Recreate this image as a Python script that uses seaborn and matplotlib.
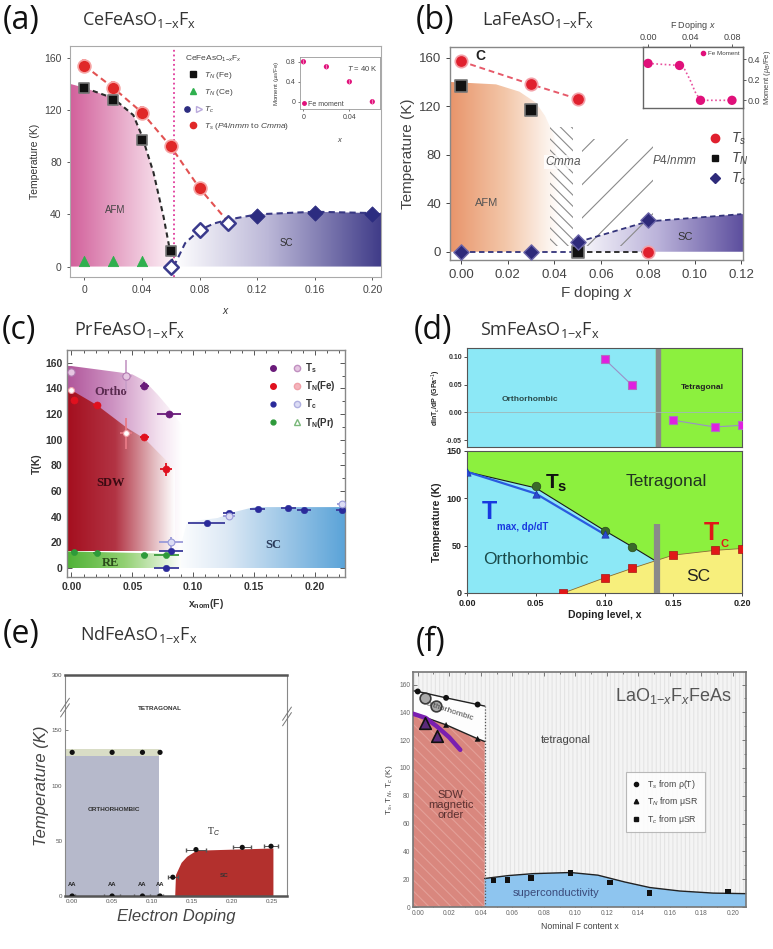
import numpy as np
import matplotlib
matplotlib.use("Agg")
import matplotlib.pyplot as plt
import seaborn as sns
from matplotlib.patches import Polygon, Rectangle
from matplotlib.colors import LinearSegmentedColormap
from matplotlib.lines import Line2D
from matplotlib.legend_handler import HandlerTuple
from matplotlib.ticker import AutoMinorLocator

# ---------------- (a) CeFeAsO1-xFx ----------------
ce_ts_x = [0.0, 0.02, 0.04, 0.06, 0.08]
ce_ts = [154, 137, 118, 92, 60]
ce_tn_fe_x = [0.0, 0.02, 0.04, 0.06]
ce_tn_fe = [137, 128, 97, 12]
ce_tn_ce_x = [0.0, 0.02, 0.04]
ce_tn_ce = [4, 4, 4]
ce_tc_open_x = [0.06, 0.08, 0.10]
ce_tc_open = [0, 28, 33]
ce_tc_x = [0.12, 0.16, 0.20]
ce_tc = [39, 41, 40]
ce_mom_x = [0.0, 0.02, 0.04, 0.06]
ce_mom = [0.80, 0.70, 0.40, 0.0]
ce_afm_x = [-0.01, 0.0, 0.02, 0.034, 0.04, 0.048, 0.055, 0.0586, 0.062]
ce_afm_t = [140, 137, 129, 116, 100, 72, 38, 17, 0]
ce_sc_x = [0.062, 0.07, 0.08, 0.09, 0.10, 0.12, 0.16, 0.20, 0.206]
ce_sc_t = [0, 18, 28, 33, 36, 40, 42, 41, 41]
ce_ts_guide_x = [0.0, 0.02, 0.04, 0.06, 0.08, 0.10]
ce_ts_guide = [154, 137, 118, 92, 60, 34]

# ---------------- (b) LaFeAsO1-xFx ----------------
la_ts_x = [0.0, 0.03, 0.05, 0.08]
la_ts = [157, 138, 126, 0]
la_tn_x = [0.0, 0.03, 0.05]
la_tn = [137, 117, 0]
la_tc_x = [0.0, 0.03, 0.05, 0.08]
la_tc = [0, 0, 8, 26]
la_mom_x = [0.0, 0.03, 0.05, 0.08]
la_mom = [0.36, 0.34, 0.0, 0.0]
la_mom_guide_x = [0.0, 0.03, 0.035, 0.04, 0.045, 0.05, 0.08]
la_mom_guide = [0.36, 0.34, 0.30, 0.20, 0.08, 0.0, 0.0]
la_afm_x = [-0.005, 0.015, 0.025, 0.032, 0.036, 0.04, 0.042]
la_afm_t = [140, 138, 132, 123, 112, 95, 60]
la_sc_x = [0.047, 0.05, 0.08, 0.12, 0.121]
la_sc_t = [0, 8, 25, 31, 31]

# ---------------- (c) PrFeAsO1-xFx ----------------
pr_ts_x = [0.06, 0.080]
pr_ts = [142, 120]
pr_ts_open_x = [0.0, 0.0446]
pr_ts_open = [153, 150]
pr_tnfe_x = [0.002, 0.021, 0.06, 0.078]
pr_tnfe = [131, 127, 102, 77]
pr_tnfe_open_x = [0.0, 0.0446]
pr_tnfe_open = [139, 105]
pr_tc_x = [0.078, 0.082, 0.111, 0.1295, 0.153, 0.178, 0.191, 0.222]
pr_tc = [0, 13.5, 35, 43, 46, 47, 45, 45]
pr_tc_xerr = [0.01, 0.01, 0.015, 0.005, 0.006, 0.006, 0.006, 0.005]
pr_tc_open_x = [0.082, 0.1295, 0.222]
pr_tc_open = [20, 40.5, 49.6]
pr_tnpr_x = [0.002, 0.021, 0.06, 0.078]
pr_tnpr = [12.7, 12, 10, 10]
pr_ortho_x = [-0.004, 0.0, 0.02, 0.04, 0.05, 0.06, 0.071, 0.08, 0.09]
pr_ortho_t = [157.5, 157.5, 155, 152.5, 151, 146, 135, 125, 112]
pr_sdw_x = [-0.004, 0.0, 0.021, 0.046, 0.06, 0.0735, 0.085]
pr_sdw_t = [139, 138.7, 127, 109, 101, 88, 77]
pr_sc_x = [0.085, 0.095, 0.12, 0.135, 0.15, 0.2246]
pr_sc_t = [0, 36, 39, 44, 47.5, 47.5]

# ---------------- (d) SmFeAsO1-xFx ----------------
sm_dp_x1 = [0.10, 0.12]
sm_dp1 = [0.096, 0.049]
sm_dp_x2 = [0.15, 0.18, 0.20]
sm_dp2 = [-0.014, -0.026, -0.023]
sm_ts_x = [0.05, 0.10, 0.12]
sm_ts = [113, 66, 49]
sm_tmax_x = [0.0, 0.05, 0.10]
sm_tmax = [128, 105, 62]
sm_tc_x = [0.07, 0.10, 0.12, 0.15, 0.18, 0.20]
sm_tc = [0, 16, 26, 40, 45, 47]
sm_struct_x = [0.0, 0.05, 0.10, 0.12, 0.137]
sm_struct_t = [128, 111, 66, 49, 34]

# ---------------- (e) NdFeAsO1-xFx ----------------
nd_ts_x = [0.0, 0.05, 0.088, 0.11]
nd_ts = [130, 130, 130, 130]
nd_zero_x = [0.0, 0.05, 0.088, 0.11]
nd_zero = [0, 0, 0, 0]
nd_zero_xerr = [0.003, 0.01, 0.01, 0.004]
nd_tc_x = [0.126, 0.155, 0.213, 0.249]
nd_tc = [17, 42, 44, 45]
nd_tc_xerr = [0.006, 0.012, 0.011, 0.009]
nd_sc_x = [0.129, 0.130, 0.137, 0.144, 0.156, 0.252, 0.252]
nd_sc_t = [0, 19, 30, 35.5, 41, 43, 0]

# ---------------- (f) LaO1-xFxFeAs ----------------
lo_ts_x = [0.0, 0.018, 0.038]
lo_ts = [155, 150.4, 145.6]
lo_tn_x = [0.018, 0.038]
lo_tn = [131, 121]
lo_ts_big_x = [0.0044, 0.0119]
lo_ts_big = [150, 144.4]
lo_tn_big_x = [0.0044, 0.0123]
lo_tn_big = [132.4, 122.7]
lo_tc_x = [0.048, 0.057, 0.072, 0.097, 0.122, 0.147, 0.197]
lo_tc = [19, 19.5, 21, 24.5, 17.5, 10, 11]
lo_tsline_x = [-0.003, 0.0, 0.018, 0.038, 0.0425]
lo_tsline = [155.5, 155, 150.4, 145.6, 144.5]
lo_tnline_x = [-0.003, 0.018, 0.038, 0.0425]
lo_tnline = [139.5, 131, 121, 119]
lo_musr_x = [-0.003, 0.005, 0.012, 0.02, 0.027]
lo_musr = [139, 136, 130, 122, 113]
lo_sc_x = [0.0425, 0.0575, 0.0733, 0.097, 0.1143, 0.1313, 0.1473, 0.1663, 0.1875, 0.2083]
lo_sc_t = [20.5, 22.6, 24, 24.8, 22.9, 18, 14, 11.5, 10, 9.6]

sns.set_theme(style="white")
plt.rcParams['font.family'] = ['Liberation Sans', 'DejaVu Sans']
plt.rcParams['mathtext.fontset'] = 'custom'
plt.rcParams['mathtext.rm'] = 'Liberation Sans'
plt.rcParams['mathtext.it'] = 'Liberation Sans:italic'
plt.rcParams['mathtext.bf'] = 'Liberation Sans:bold'
plt.rcParams['hatch.linewidth'] = 0.8

W, H = 773, 949
fig = plt.figure(figsize=(W / 100, H / 100), dpi=100)
fig.patch.set_facecolor('white')


def add_ax(l, t, r, b):
    return fig.add_axes([l / W, 1 - b / H, (r - l) / W, (b - t) / H])


def shade(ax, xs, ys, stops, x0, x1, zorder=1):
    poly = Polygon(np.column_stack([xs, ys]), closed=True, fc='none', ec='none')
    ax.add_patch(poly)
    cmap = LinearSegmentedColormap.from_list('shade', stops)
    im = ax.imshow(np.linspace(0, 1, 256)[None, :], extent=[x0, x1, min(ys), max(ys)],
                   cmap=cmap, aspect='auto', origin='lower', interpolation='bilinear',
                   zorder=zorder)
    im.set_clip_path(poly)


def pts(ax, x, y, **kw):
    sns.scatterplot(x=x, y=y, ax=ax, legend=False, **kw)


def guide(ax, x, y, **kw):
    sns.lineplot(x=x, y=y, ax=ax, sort=False, estimator=None, legend=False, **kw)


def frame(ax, color='#999999', lw=0.8):
    for s in ax.spines.values():
        s.set_visible(True)
        s.set_color(color)
        s.set_linewidth(lw)


def panel_label(x, y, letter, formula=None, fx=None):
    fig.text(x / W, 1 - y / H, letter, fontsize=23, family='Open Sans',
             va='center', ha='left', color='#111')
    if formula:
        fig.text(fx / W, 1 - (y + 5) / H, formula, fontsize=13, family='Open Sans',
                 va='baseline', ha='left', color='#333')


SUB = '$_{\\mathregular{1{-}x}}$F$_{\\mathregular{x}}$'

# ================= (a) =================
ax = add_ax(70, 46, 381, 277)
shade(ax, ce_afm_x + [-0.01], ce_afm_t + [0],
      [(0, '#d2609b'), (0.55, '#eab3cf'), (1, '#fdf3f8')], -0.01, 0.062)
shade(ax, ce_sc_x + [0.206], ce_sc_t + [0],
      [(0, '#ffffff'), (0.45, '#bcb8d8'), (1, '#3f3b88')], 0.062, 0.206)
ax.axvline(0.062, color='#e03c9c', ls=(0, (1, 1.6)), lw=1.3, zorder=2)
guide(ax, ce_afm_x[1:], ce_afm_t[1:], color='#2b2b2b', lw=1.5, linestyle=(0, (2.5, 1.8)), zorder=3)
guide(ax, ce_ts_guide_x, ce_ts_guide, color='#e25252', lw=1.5, linestyle=(0, (3, 2)), zorder=3)
guide(ax, ce_sc_x, ce_sc_t, color='#383884', lw=1.5, linestyle=(0, (3, 2)), zorder=3)
ax.errorbar(ce_ts_x, ce_ts, yerr=5, fmt='none', ecolor='#f39a9a', elinewidth=3, zorder=4)
pts(ax, ce_ts_x, ce_ts, color='#e02828', s=85, edgecolor='#f6a4a4', linewidth=1.2, zorder=5)
ax.errorbar(ce_tn_fe_x, ce_tn_fe, yerr=4, fmt='none', ecolor='#777', elinewidth=2.5, zorder=4)
pts(ax, ce_tn_fe_x, ce_tn_fe, color='#111', marker='s', s=60, edgecolor='#777', linewidth=1.2, zorder=5)
pts(ax, ce_tn_ce_x, ce_tn_ce, color='#2fb04e', marker='^', s=55, edgecolor='#2fb04e', zorder=5)
pts(ax, ce_tc_open_x, ce_tc_open, color='white', marker='D', s=55, edgecolor='#3a3a8c', linewidth=1.8, zorder=5)
pts(ax, ce_tc_x, ce_tc, color='#2c2c80', marker='D', s=60, edgecolor='#2c2c80', zorder=5)
ax.text(0.0214, 43, 'AFM', fontsize=7, color='#444', ha='center', va='center')
ax.text(0.14, 18, 'SC', fontsize=7, color='#333', ha='center', va='center')
ax.set_xlim(-0.01, 0.206)
ax.set_ylim(-8, 169)
ax.set_xticks([0, 0.04, 0.08, 0.12, 0.16, 0.20])
ax.set_xticklabels(['0', '0.04', '0.08', '0.12', '0.16', '0.20'])
ax.set_yticks([0, 40, 80, 120, 160])
ax.tick_params(labelsize=7.5, colors='#444', bottom=True, left=True, length=2.5, width=0.6, direction='out')
ax.set_ylabel('Temperature (K)', fontsize=7.5, color='#333', labelpad=3)
ax.set_xlabel('$x$', fontsize=7.5, color='#333', labelpad=8)
frame(ax, '#aaaaaa')
hA = [Line2D([], [], marker='s', color='#111', ls='none', ms=4.5),
      Line2D([], [], marker='^', color='#2fb04e', ls='none', ms=4.5),
      (Line2D([], [], marker='o', color='#2c2c80', ls='none', ms=3.8),
       Line2D([], [], marker='>', mfc='white', mec='#b9a9dc', ls='none', ms=4.5)),
      Line2D([], [], marker='o', color='#e02828', ls='none', ms=4.5)]
lA = ['$T_N$ (Fe)', '$T_N$ (Ce)', '$T_c$', '$T_s$ ($P4/nmm$ to $Cmma$)']
leg = ax.legend(hA, lA, title='CeFeAsO$_{1{-}x}$F$_x$', loc='upper left', bbox_to_anchor=(0.345, 1.0),
                frameon=False, fontsize=6, title_fontsize=6, alignment='left', labelspacing=0.75,
                handletextpad=0.3, handlelength=2.0,
                handler_map={tuple: HandlerTuple(ndivide=None, pad=0.9)})
for t in leg.get_texts():
    t.set_color('#444')
leg.get_title().set_color('#444')

ai = add_ax(300, 57, 380, 109)
ai.errorbar(ce_mom_x, ce_mom, yerr=0.05, fmt='none', ecolor='#f27ab6', elinewidth=0.8)
pts(ai, ce_mom_x, ce_mom, color='#e0107a', s=14, edgecolor='none')
ai.text(0.065, 0.67, '$T$ = 40 K', fontsize=5.5, color='#444', ha='right', va='center')
ai.legend([Line2D([], [], marker='o', color='#e0107a', ls='none', ms=2.5)], ['Fe moment'],
          loc='lower left', frameon=False, fontsize=5, handletextpad=0.2, handlelength=0.8,
          borderaxespad=0.1, borderpad=0.1, labelcolor='#444')
ai.set_xlim(-0.003, 0.0667)
ai.set_ylim(-0.146, 0.894)
ai.set_xticks([0, 0.04])
ai.set_xticklabels(['0', '0.04'])
ai.set_yticks([0, 0.4, 0.8])
ai.set_yticklabels(['0', '0.4', '0.8'])
ai.tick_params(labelsize=5, colors='#444', bottom=True, left=True, length=1.5, width=0.5, pad=2)
ai.set_ylabel('Moment ($\\mu_B$/Fe)', fontsize=4.5, color='#444', labelpad=3)
ai.set_xlabel('$x$', fontsize=5.5, color='#444', labelpad=11)
frame(ai, '#999999', 0.6)

# ================= (b) =================
bx = add_ax(450, 47, 743, 260)
shade(bx, la_afm_x + [0.042, -0.005], la_afm_t + [0, 0],
      [(0, '#e8946a'), (0.5, '#f3c6a8'), (1, '#ffffff')], -0.005, 0.042)
shade(bx, la_sc_x + [0.121], la_sc_t + [0],
      [(0, '#ffffff'), (0.5, '#bbb3da'), (1, '#5b4d9d')], 0.047, 0.121, zorder=2)
bx.add_patch(Rectangle((0.038, 5), 0.010, 98, fill=False, hatch='\\\\\\', ec='#8a8a8a', lw=0, zorder=3))
bx.add_patch(Rectangle((0.052, 5), 0.030, 88, fill=False, hatch='/', ec='#8a8a8a', lw=0, zorder=3))
guide(bx, la_ts_x[:3], la_ts[:3], color='#e65a6a', lw=1.4, linestyle=(0, (3, 2)), zorder=4)
guide(bx, la_tc_x[:2] + [0.05], [0, 0, 0], color='#33337a', lw=1.3, linestyle=(0, (3, 2)), zorder=4)
guide(bx, [0.05, 0.08], [0, 0], color='#222', lw=1.3, linestyle=(0, (3, 2)), zorder=4)
guide(bx, la_sc_x[1:4], la_sc_t[1:4], color='#33337a', lw=1.3, linestyle=(0, (3, 2)), zorder=4)
pts(bx, la_ts_x, la_ts, color='#e0202e', s=80, edgecolor='#f3a0a8', linewidth=1.2, zorder=5)
pts(bx, la_tn_x, la_tn, color='#111', marker='s', s=70, edgecolor='#777', linewidth=1.2, zorder=5)
pts(bx, la_tc_x, la_tc, color='#2e2a7a', marker='D', s=60, edgecolor='#6a64a8', linewidth=1, zorder=5)
bx.text(0.006, 161, 'C', fontsize=10, weight='bold', color='#222', va='center')
bx.text(0.0436, 74, '$Cmma$', fontsize=8.5, color='#555', ha='center', va='center', zorder=6,
        bbox=dict(fc='white', ec='none', pad=0.5, alpha=0.8))
bx.text(0.0915, 75, '$P4/nmm$', fontsize=8.5, color='#555', ha='center', va='center')
bx.text(0.011, 40, 'AFM', fontsize=8, color='#555', ha='center', va='center')
bx.text(0.096, 12, 'SC', fontsize=8, color='#333', ha='center', va='center', zorder=6)
bx.set_xlim(-0.0047, 0.1207)
bx.set_ylim(-6.8, 168.8)
bx.set_xticks([0, 0.02, 0.04, 0.06, 0.08, 0.10, 0.12])
bx.set_xticklabels(['0.00', '0.02', '0.04', '0.06', '0.08', '0.10', '0.12'])
bx.set_yticks([0, 40, 80, 120, 160])
bx.tick_params(labelsize=9.5, colors='#444', bottom=True, left=True, length=3, width=0.7, direction='out')
bx.set_ylabel('Temperature (K)', fontsize=11, color='#444', labelpad=3)
bx.set_xlabel('F doping $x$', fontsize=11, color='#444', labelpad=2)
frame(bx, '#888888', 1.0)
hB = [Line2D([], [], marker='o', color='#e0202e', ls='none', ms=6),
      Line2D([], [], marker='s', color='#111', ls='none', ms=5),
      Line2D([], [], marker='D', color='#2e2a7a', ls='none', ms=5)]
bx.legend(hB, ['$T_s$', '$T_N$', '$T_c$'], loc='upper left', bbox_to_anchor=(0.835, 0.665),
          frameon=False, fontsize=10, labelspacing=0.25, handletextpad=0.5, handlelength=1.2,
          labelcolor='#444')

bi = add_ax(643, 47, 743, 108)
guide(bi, la_mom_guide_x, la_mom_guide, color='#e8509e', lw=1.2, linestyle=(0, (1, 1.5)))
pts(bi, la_mom_x, la_mom, color='#e0107a', s=45, edgecolor='none', zorder=5)
bi.legend([Line2D([], [], marker='o', color='#e0107a', ls='none', ms=3)], ['Fe Moment'],
          loc='upper right', frameon=False, fontsize=4.5, handletextpad=0.3, handlelength=1,
          borderaxespad=0.2, labelcolor='#444')
bi.set_xlim(-0.0048, 0.0905)
bi.set_ylim(-0.075, 0.52)
bi.xaxis.tick_top()
bi.xaxis.set_label_position('top')
bi.yaxis.tick_right()
bi.yaxis.set_label_position('right')
bi.set_xticks([0, 0.04, 0.08])
bi.set_xticklabels(['0.00', '0.04', '0.08'])
bi.set_yticks([0, 0.2, 0.4])
bi.set_yticklabels(['0.0', '0.2', '0.4'])
bi.tick_params(labelsize=6.5, colors='#444', top=True, right=True, length=2, width=0.6, pad=1.5)
bi.set_xlabel('F Doping $x$', fontsize=6.5, color='#444', labelpad=4)
bi.set_ylabel('Moment ($\\mu_B$/Fe)', fontsize=5.5, color='#444', labelpad=1)
frame(bi, '#666666', 1.0)

# ================= (c) =================
cx = add_ax(67, 350, 345, 577)
shade(cx, pr_ortho_x + [0.09, -0.004], pr_ortho_t + [13, 13],
      [(0, '#b0559a'), (0.4, '#cd92c2'), (0.8, '#f3e1ef'), (1, '#ffffff')], -0.004, 0.09)
shade(cx, pr_sdw_x + [0.085, -0.004], pr_sdw_t + [13, 13],
      [(0, '#a40e1e'), (0.45, '#b23444'), (0.8, '#e2b8bd'), (1, '#ffffff')], -0.004, 0.085, zorder=2)
shade(cx, [-0.004, 0.09, 0.09, -0.004], [0, 0, 11, 13],
      [(0, '#4fb236'), (0.5, '#92d072'), (1, '#ffffff')], -0.004, 0.09, zorder=2)
shade(cx, pr_sc_x + [0.2246], pr_sc_t + [0],
      [(0, '#ffffff'), (0.3, '#dde9f5'), (1, '#5aa3d8')], 0.085, 0.2246)
ecol = dict(fmt='none', elinewidth=1.3, zorder=4)
cx.errorbar([0.06, 0.08], pr_ts, xerr=[0.004, 0.01], yerr=[3, 0], ecolor='#6a1b7a', **ecol)
cx.errorbar([0.0446], [150], xerr=0.005, yerr=12, ecolor='#c9a0c9', **ecol)
cx.errorbar([0.0446], [105], xerr=0.005, yerr=12, ecolor='#e87a86', **ecol)
cx.errorbar(pr_tnfe_x, pr_tnfe, xerr=[0.002, 0.003, 0.004, 0.005], yerr=[0, 0, 0, 5], ecolor='#e0101e', **ecol)
cx.errorbar(pr_tc_x, pr_tc, xerr=pr_tc_xerr, ecolor='#3a3a9a', **ecol)
cx.errorbar(pr_tc_open_x, pr_tc_open, xerr=[0.01, 0.005, 0.004], yerr=[4, 0, 3], ecolor='#9a9ad8', **ecol)
cx.errorbar(pr_tnpr_x, pr_tnpr, xerr=[0.002, 0.003, 0.003, 0.01], ecolor='#3a9a3a', **ecol)
pts(cx, pr_ts_open_x, pr_ts_open, color='#e6c6e2', s=28, edgecolor='#b07ab0', linewidth=0.8, zorder=5)
pts(cx, pr_tnfe_open_x, pr_tnfe_open, color='#ffffff', s=18, edgecolor='#f0a0a8', linewidth=0.8, zorder=5)
pts(cx, pr_ts_x, pr_ts, color='#6a1b7a', s=26, edgecolor='#6a1b7a', zorder=5)
pts(cx, pr_tnfe_x, pr_tnfe, color='#e0101e', s=26, edgecolor='#e0101e', zorder=5)
pts(cx, pr_tc_x, pr_tc, color='#2a2a9a', s=22, edgecolor='#2a2a9a', zorder=5)
pts(cx, pr_tc_open_x, pr_tc_open, color='#dcdcf4', s=24, edgecolor='#9a9ad8', linewidth=0.8, zorder=5)
pts(cx, pr_tnpr_x, pr_tnpr, color='#2e9a3a', s=20, edgecolor='#2e9a3a', zorder=5)
serif = dict(family='Liberation Serif', weight='bold', fontsize=9, ha='center', va='center')
cx.text(0.032, 137, 'Ortho', color='#5a2a50', **serif)
cx.text(0.032, 66, 'SDW', color='#3a0a12', **serif)
cx.text(0.032, 4, 'RE', color='#2a4a1a', zorder=6, **serif)
cx.text(0.166, 18, 'SC', color='#2a3a5a', **serif)
cx.set_xlim(-0.0036, 0.2246)
cx.set_ylim(-7, 170)
cx.set_xticks([0, 0.05, 0.10, 0.15, 0.20])
cx.set_xticklabels(['0.00', '0.05', '0.10', '0.15', '0.20'])
cx.set_yticks(range(0, 161, 20))
cx.xaxis.set_minor_locator(AutoMinorLocator(5))
cx.yaxis.set_minor_locator(AutoMinorLocator(2))
cx.tick_params(which='both', direction='in', top=True, right=True, bottom=True, left=True,
               colors='#555', width=0.7)
cx.tick_params(which='major', length=3.5, labelsize=7.5)
cx.tick_params(which='minor', length=2)
for t in cx.get_xticklabels() + cx.get_yticklabels():
    t.set_fontweight('bold')
    t.set_color('#333')
cx.set_ylabel('T(K)', fontsize=7.5, weight='bold', color='#333', labelpad=2)
cx.set_xlabel('x$_{\\mathbf{nom}}$(F)', fontsize=7.5, weight='bold', color='#333', labelpad=4)
frame(cx, '#888888', 1.0)
hC = [(Line2D([], [], marker='o', color='#6a1b7a', ls='none', ms=4),
       Line2D([], [], marker='o', mfc='#e6c6e2', mec='#c090c0', ls='none', ms=4.5)),
      (Line2D([], [], marker='o', color='#e0101e', ls='none', ms=4),
       Line2D([], [], marker='o', mfc='#f4b4bc', mec='#f0a0a8', ls='none', ms=4.5)),
      (Line2D([], [], marker='o', color='#2a2a9a', ls='none', ms=3.5),
       Line2D([], [], marker='o', mfc='#dcdcf4', mec='#b0b0e0', ls='none', ms=4.5)),
      (Line2D([], [], marker='o', color='#2e9a3a', ls='none', ms=3.5),
       Line2D([], [], marker='^', mfc='white', mec='#7ab87a', ls='none', ms=4.5))]
legC = cx.legend(hC, ['T$_\\mathbf{s}$', 'T$_\\mathbf{N}$(Fe)', 'T$_\\mathbf{c}$', 'T$_\\mathbf{N}$(Pr)'],
                 loc='upper right', bbox_to_anchor=(1.0, 0.99), frameon=False, fontsize=7,
                 labelspacing=0.45, handletextpad=0.4, handlelength=3.4,
                 handler_map={tuple: HandlerTuple(ndivide=None, pad=1.6)})
for t in legC.get_texts():
    t.set_fontweight('bold')
    t.set_color('#333')

# ================= (d) =================
CYAN, LIME, YEL = '#8ce8f6', '#8cf03e', '#f7ef7c'
dx1 = add_ax(467, 348, 742, 447)
dx1.axvspan(0, 0.1375, color=CYAN, zorder=0)
dx1.axvspan(0.1375, 0.2, color=LIME, zorder=0)
dx1.axvspan(0.1375, 0.1405, color='#8a8a8a', zorder=1)
dx1.axhline(0, color='#a0b8b8', lw=0.6, zorder=1)
guide(dx1, sm_dp_x1, sm_dp1, color='#9a90c8', lw=0.8, zorder=2)
guide(dx1, sm_dp_x2, sm_dp2, color='#9a90c8', lw=0.8, zorder=2)
pts(dx1, sm_dp_x1 + sm_dp_x2, sm_dp1 + sm_dp2, color='#e020e0', marker='s', s=40,
    edgecolor='#b070c0', linewidth=0.8, zorder=3)
dx1.text(0.0457, 0.0235, 'Orthorhombic', fontsize=6, weight='bold', color='#2a4a4a', ha='center', va='center')
dx1.text(0.171, 0.045, 'Tetragonal', fontsize=6, weight='bold', color='#222', ha='center', va='center')
dx1.set_xlim(0, 0.2)
dx1.set_ylim(-0.062, 0.1157)
dx1.set_xticks([0, 0.05, 0.10, 0.15, 0.20])
dx1.set_xticklabels([])
dx1.set_yticks([-0.05, 0, 0.05, 0.10])
dx1.set_yticklabels(['-0.05', '0.00', '0.05', '0.10'])
dx1.tick_params(labelsize=5, colors='#333', left=True, length=2, width=0.6, pad=1.5)
for t in dx1.get_yticklabels():
    t.set_fontweight('bold')
dx1.set_ylabel('dlnT$_c$/dP (GPa$^{-1}$)', fontsize=5, weight='bold', color='#222', labelpad=2)
frame(dx1, '#555555', 0.8)

dx2 = add_ax(467, 451, 742, 593)
dx2.set_facecolor(LIME)
cyan_x = sm_struct_x + [0.12, 0.10, 0.07, 0.0]
cyan_t = sm_struct_t + [26, 16, 0, 0]
dx2.add_patch(Polygon(np.column_stack([cyan_x, cyan_t]), closed=True, fc=CYAN, ec='none', zorder=1))
yel_x = sm_tc_x[:3] + [0.137] + sm_tc_x[3:] + [0.2]
yel_t = sm_tc[:3] + [34] + sm_tc[3:] + [0]
dx2.add_patch(Polygon(np.column_stack([yel_x, yel_t]), closed=True, fc=YEL, ec='none', zorder=1))
guide(dx2, sm_struct_x, sm_struct_t, color='#1a1a1a', lw=0.8, zorder=2)
guide(dx2, yel_x[:-1], yel_t[:-1], color='#8a6a3a', lw=0.6, zorder=2)
guide(dx2, sm_tmax_x, sm_tmax, color='#2a5ae0', lw=1.6, zorder=3)
dx2.plot([0.1385, 0.1385], [0, 73], lw=4.5, color='#8a8a8a', solid_capstyle='butt', zorder=3)
pts(dx2, sm_ts_x, sm_ts, color='#3a6a2a', s=38, edgecolor='#2a4a1a', zorder=4)
pts(dx2, sm_tmax_x, sm_tmax, color='#2a4ad0', marker='^', s=28, edgecolor='#1a2a9a', zorder=5)
pts(dx2, sm_tc_x, sm_tc, color='#e01818', marker='s', s=34, edgecolor='#a01010', zorder=4)
dx2.text(0.057, 116, '$\\mathbf{T_s}$', fontsize=15, color='#111', va='center', ha='left')
dx2.text(0.145, 118, 'Tetragonal', fontsize=12.5, color='#223322', va='center', ha='center')
dx2.text(0.011, 86, 'T', fontsize=18, weight='bold', color='#1838e0', va='center', ha='left')
dx2.text(0.022, 70, 'max, d\u03c1/dT', fontsize=7, weight='bold', color='#1838e0', va='center', ha='left')
dx2.text(0.05, 35, 'Orthorhombic', fontsize=12.5, color='#1a4a4a', va='center', ha='center')
dx2.text(0.172, 63, 'T', fontsize=18, weight='bold', color='#e01818', va='center', ha='left')
dx2.text(0.184, 52, 'C', fontsize=8, weight='bold', color='#e01818', va='center', ha='left')
dx2.text(0.168, 17, 'SC', fontsize=12.5, color='#222', va='center', ha='center')
dx2.set_xlim(0, 0.2)
dx2.set_ylim(0, 150)
dx2.set_xticks([0, 0.05, 0.10, 0.15, 0.20])
dx2.set_xticklabels(['0.00', '0.05', '0.10', '0.15', '0.20'])
dx2.set_yticks([0, 50, 100, 150])
dx2.tick_params(labelsize=6.5, colors='#222', left=True, bottom=True, length=2.5, width=0.6, pad=1.5)
for t in dx2.get_xticklabels() + dx2.get_yticklabels():
    t.set_fontweight('bold')
dx2.set_ylabel('Temperature (K)', fontsize=7.5, weight='bold', color='#222', labelpad=3)
dx2.set_xlabel('Doping level, x', fontsize=7.5, weight='bold', color='#222', labelpad=2)
frame(dx2, '#555555', 0.8)


# ================= (e) =================
def _fwd(y):
    y = np.asarray(y, dtype=float)
    return np.where(y <= 150, y, 150 + (y - 150) / 3.0)


def _inv(z):
    z = np.asarray(z, dtype=float)
    return np.where(z <= 150, z, 150 + (z - 150) * 3.0)


ex = add_ax(65, 675, 287, 896)
ex.set_yscale('function', functions=(_fwd, _inv))
ex.add_patch(Rectangle((-0.009, 0), 0.118, 127, fc='#b6b9cb', ec='none', zorder=1))
ex.add_patch(Rectangle((-0.009, 127), 0.118, 6, fc='#d9ddc6', ec='none', zorder=1))
ex.add_patch(Polygon(np.column_stack([nd_sc_x, nd_sc_t]), closed=True, fc='#b3302d', ec='none', zorder=1))
pts(ex, nd_ts_x, nd_ts, color='#111', s=14, edgecolor='none', zorder=4)
ex.errorbar(nd_zero_x, nd_zero, xerr=nd_zero_xerr, fmt='none', ecolor='#555', elinewidth=0.7, capsize=1.2, zorder=3)
pts(ex, nd_zero_x, nd_zero, color='#111', s=14, edgecolor='none', zorder=4)
ex.errorbar(nd_tc_x, nd_tc, xerr=nd_tc_xerr, fmt='none', ecolor='#555', elinewidth=0.7, capsize=1.2, zorder=3)
pts(ex, nd_tc_x, nd_tc, color='#111', s=14, edgecolor='none', zorder=4)
for xv in nd_ts_x:
    ex.text(xv, 10, 'AA', fontsize=4.2, weight='bold', color='#222', ha='center', va='center')
ex.text(0.11, 209, 'TETRAGONAL', fontsize=4.6, weight='bold', color='#333', ha='center', va='center')
ex.text(0.052, 78, 'ORTHORHOMBIC', fontsize=4.6, weight='bold', color='#333', ha='center', va='center')
ex.text(0.177, 58, 'T$_C$', fontsize=7, family='Liberation Serif', color='#222', ha='center', va='center')
ex.text(0.19, 19, 'SC', fontsize=4.6, weight='bold', color='#333', ha='center', va='center')
for xa, ya in [(0.0, 0.84), (1.0, 0.80)]:
    for dy in (0.0, 0.025):
        ex.plot([xa - 0.02, xa + 0.02], [ya - 0.03 + dy, ya + 0.03 + dy], transform=ex.transAxes,
                color='#777', lw=0.7, clip_on=False, zorder=6)
ex.set_xlim(-0.009, 0.269)
ex.set_ylim(0, 300)
ex.set_xticks([0, 0.05, 0.10, 0.15, 0.20, 0.25])
ex.set_xticklabels(['0.00', '0.05', '0.10', '0.15', '0.20', '0.25'])
ex.set_yticks([0, 50, 100, 150, 300])
ex.set_yticklabels(['0', '50', '100', '150', '300'])
ex.tick_params(labelsize=4.5, colors='#555', left=True, bottom=True, direction='in', length=2, width=0.5, pad=2)
ex.set_ylabel('Temperature (K)', fontsize=12, style='italic', color='#444', labelpad=2)
ex.set_xlabel('Electron Doping', fontsize=12, style='italic', color='#444', labelpad=4)
frame(ex, '#888888', 0.8)
ex.spines['top'].set_linewidth(1.8)
ex.spines['top'].set_color('#555555')
ex.spines['bottom'].set_linewidth(1.8)
ex.spines['bottom'].set_color('#555555')

# ================= (f) =================
fx = add_ax(413, 672, 746, 907)
fx.set_facecolor('#f4f4f4')
fx.add_patch(Rectangle((0, 0), 1, 1, transform=fx.transAxes, fill=False, hatch='||||',
                       ec='#e4e4e4', lw=0, zorder=0))
orth_x = lo_tsline_x + lo_tnline_x[::-1]
orth_t = lo_tsline + lo_tnline[::-1]
fx.add_patch(Polygon(np.column_stack([orth_x, orth_t]), closed=True, fc='#fdfdfd', ec='none', zorder=1))
sdw_x = lo_tnline_x + [0.0425, -0.003]
sdw_t = lo_tnline + [0, 0]
fx.add_patch(Polygon(np.column_stack([sdw_x, sdw_t]), closed=True, fc='#d9877e', ec='none', zorder=1))
fx.add_patch(Polygon(np.column_stack([sdw_x, sdw_t]), closed=True, fill=False, hatch='\\\\\\',
                     ec='#e3a098', lw=0, zorder=1))
sc_x = lo_sc_x + [0.2083, 0.0425]
sc_t = lo_sc_t + [0, 0]
fx.add_patch(Polygon(np.column_stack([sc_x, sc_t]), closed=True, fc='#8ec5ef', ec='none', zorder=1))
guide(fx, lo_sc_x, lo_sc_t, color='#222', lw=1.0, zorder=2)
guide(fx, lo_tsline_x, lo_tsline, color='#222', lw=1.0, zorder=2)
guide(fx, lo_tnline_x, lo_tnline, color='#222', lw=1.0, zorder=2)
fx.plot([0.0425, 0.0425], [0, 144.5], color='#555', lw=0.9, ls=(0, (1, 1.5)), zorder=2)
guide(fx, lo_musr_x, lo_musr, color='#7a1fb0', lw=3.2, zorder=3)
pts(fx, lo_ts_big_x, lo_ts_big, color='#9a9a9a', s=60, edgecolor='#222', linewidth=1.2, alpha=0.85, zorder=4)
pts(fx, lo_tn_big_x, lo_tn_big, color='#5a2a7a', marker='^', s=70, edgecolor='#111', linewidth=1.2, zorder=4)
pts(fx, lo_ts_x, lo_ts, color='#111', s=18, edgecolor='none', zorder=5)
pts(fx, lo_tn_x, lo_tn, color='#111', marker='^', s=18, edgecolor='none', zorder=5)
pts(fx, lo_tc_x, lo_tc, color='#111', marker='s', s=16, edgecolor='none', zorder=5)
fx.text(0.02, 141, 'orthorhombic', fontsize=6, color='#444', rotation=-18, ha='center', va='center', zorder=6)
fx.text(0.162, 152, 'LaO$_{1{-}x}$F$_x$FeAs', fontsize=13, color='#555', ha='center', va='center')
fx.text(0.094, 120, 'tetragonal', fontsize=8, color='#444', ha='center', va='center')
fx.text(0.021, 73, 'SDW\nmagnetic\norder', fontsize=8, color='#5a3030', ha='center', va='center',
        linespacing=1.0, zorder=6)
fx.text(0.088, 10, 'superconductivity', fontsize=8, color='#3a4a7a', ha='center', va='center', zorder=6)
hF = [Line2D([], [], marker='o', color='#111', ls='none', ms=3),
      Line2D([], [], marker='^', color='#111', ls='none', ms=3.2),
      Line2D([], [], marker='s', color='#111', ls='none', ms=2.8)]
legF = fx.legend(hF, ['T$_s$ from \u03c1(T)', 'T$_N$ from \u03bcSR', 'T$_c$ from \u03bcSR'],
                 loc='upper left', bbox_to_anchor=(0.625, 0.595), frameon=True, fontsize=6.3,
                 labelspacing=0.55, handletextpad=0.8, handlelength=1.0, borderpad=0.7,
                 fancybox=False, labelcolor='#444')
legF.get_frame().set_edgecolor('#aaaaaa')
legF.get_frame().set_linewidth(0.8)
fx.set_xlim(-0.003, 0.2083)
fx.set_ylim(0, 169)
fx.set_xticks(np.arange(0, 0.201, 0.02))
fx.set_xticklabels([f'{v:.2f}' for v in np.arange(0, 0.201, 0.02)])
fx.set_yticks(range(0, 161, 20))
fx.xaxis.set_minor_locator(AutoMinorLocator(2))
fx.yaxis.set_minor_locator(AutoMinorLocator(2))
fx.tick_params(which='both', direction='in', top=True, right=True, bottom=True, left=True,
               colors='#666', width=0.6)
fx.tick_params(which='major', length=3, labelsize=4.8, pad=2)
fx.tick_params(which='minor', length=1.5)
fx.set_ylabel('T$_s$, T$_N$, T$_c$ (K)', fontsize=6, color='#444', labelpad=3)
fx.set_xlabel('Nominal F content x', fontsize=6.3, color='#444', labelpad=4)
frame(fx, '#777777', 1.2)

# ---------------- panel letters and compound names ----------------
panel_label(3, 20, '(a)', 'CeFeAsO' + SUB, 82)
panel_label(416, 20, '(b)', 'LaFeAsO' + SUB, 482)
panel_label(2, 330, '(c)', 'PrFeAsO' + SUB, 74)
panel_label(414, 330, '(d)', 'SmFeAsO' + SUB, 480)
panel_label(3, 635, '(e)', 'NdFeAsO' + SUB, 80)
panel_label(416, 642, '(f)')

fig.savefig('out.png', dpi=100)
